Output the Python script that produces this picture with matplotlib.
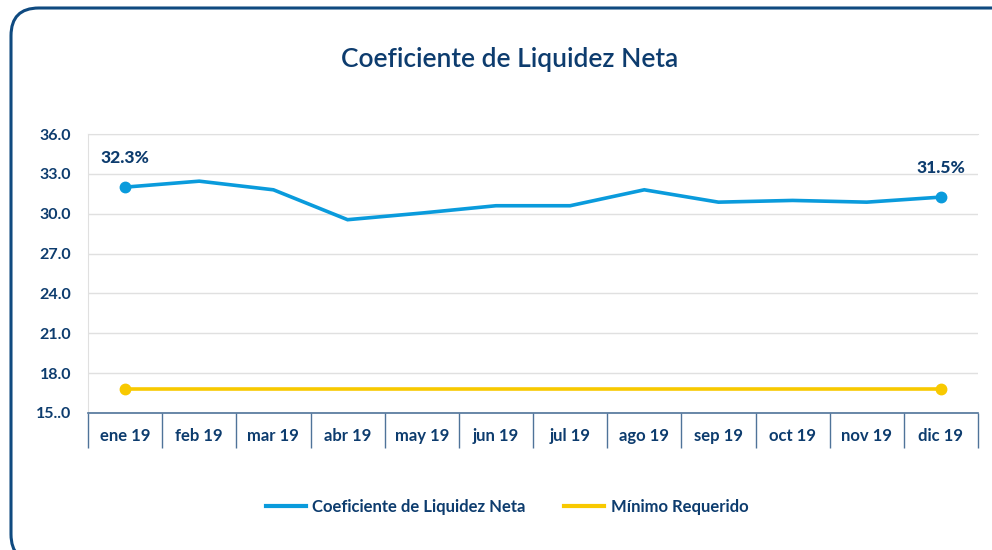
import matplotlib
matplotlib.use("Agg")
import matplotlib.pyplot as plt
from matplotlib.patches import FancyBboxPatch
from matplotlib.lines import Line2D

plt.rcParams['font.family'] = ['Lato', 'DejaVu Sans']

months = ["ene 19", "feb 19", "mar 19", "abr 19", "may 19", "jun 19",
          "jul 19", "ago 19", "sep 19", "oct 19", "nov 19", "dic 19"]
cln = [32.0, 32.45, 31.8, 29.55, 30.05, 30.6, 30.6, 31.8, 30.87, 31.0, 30.87, 31.25]
minimo = [16.8] * 12
first_label = "32.3%"
last_label = "31.5%"
yticks = [15, 18, 21, 24, 27, 30, 33, 36]
ytick_labels = ["15..0", "18.0", "21.0", "24.0", "27.0", "30.0", "33.0", "36.0"]

NAVY = "#0d3c6e"
BLUE = "#0a9bdc"
YELLOW = "#f8c900"
GRID = "#e0e0e0"
AXIS = "#4f7399"

W, H = 992, 550
fig = plt.figure(figsize=(W / 100, H / 100), dpi=100)

# rounded border (cut off on right/bottom)
border = FancyBboxPatch((11 / W, 1 - 562 / H), 1012 / W, 554 / H,
                        boxstyle="round,pad=0,rounding_size=0.028",
                        transform=fig.transFigure, fill=False,
                        edgecolor="#0f4a80", linewidth=2.2,
                        mutation_aspect=W / H, clip_on=False)
fig.patches.append(border)

ax = fig.add_axes([88 / W, 1 - 413 / H, 890 / W, (413 - 134) / H])
x = list(range(len(months)))

ax.plot(x, minimo, color=YELLOW, lw=2.6, solid_capstyle='round', zorder=3)
ax.plot([x[0], x[-1]], [minimo[0], minimo[-1]], 'o', color=YELLOW, ms=7.5, zorder=4)
ax.plot(x, cln, color=BLUE, lw=2.6, solid_joinstyle='miter', zorder=3)
ax.plot([x[0], x[-1]], [cln[0], cln[-1]], 'o', color=BLUE, ms=7.5, zorder=4)

for xi, yi, txt in [(x[0], cln[0], first_label), (x[-1], cln[-1], last_label)]:
    ax.annotate(txt, (xi, yi), xytext=(0, 15), textcoords='offset points',
                ha='center', va='bottom', fontsize=12.5, fontweight=900, color=NAVY)

ax.set_xlim(-0.5, len(months) - 0.5)
ax.set_ylim(15, 36)
ax.set_yticks(yticks)
ax.set_yticklabels(ytick_labels)
ax.grid(axis='y', color=GRID, lw=1)
ax.set_axisbelow(True)

ax.spines['right'].set_visible(False)
ax.spines['top'].set_color(GRID)
ax.spines['left'].set_color(GRID)
ax.spines['bottom'].set_color(AXIS)
ax.spines['bottom'].set_linewidth(1.2)

ax.tick_params(axis='y', length=0, pad=12, labelsize=11.5, labelcolor=NAVY)
for lbl in ax.get_yticklabels():
    lbl.set_fontweight('bold')

ax.set_xticks(x)
ax.set_xticklabels(months, fontsize=12, fontweight='bold', color=NAVY)
ax.set_xticks([i - 0.5 for i in range(len(months) + 1)], minor=True)
ax.tick_params(axis='x', which='major', length=0, pad=11)
ax.tick_params(axis='x', which='minor', length=25, width=1.0, color=AXIS, direction='out')

fig.text(510 / W, 1 - 60 / H, "Coeficiente de Liquidez Neta", ha='center', va='center',
         fontsize=19, fontweight='semibold', color=NAVY)

handles = [Line2D([0], [0], color=BLUE, lw=3),
           Line2D([0], [0], color=YELLOW, lw=3)]
fig.legend(handles, ["Coeficiente de Liquidez Neta", "Mínimo Requerido"],
           loc='center', bbox_to_anchor=(507 / W, 1 - 507 / H), ncol=2, frameon=False,
           prop={'weight': 'bold', 'size': 12}, labelcolor=NAVY,
           handlelength=2.4, handletextpad=0.4, columnspacing=2.3)

fig.savefig("out.png", dpi=100, facecolor='white')
